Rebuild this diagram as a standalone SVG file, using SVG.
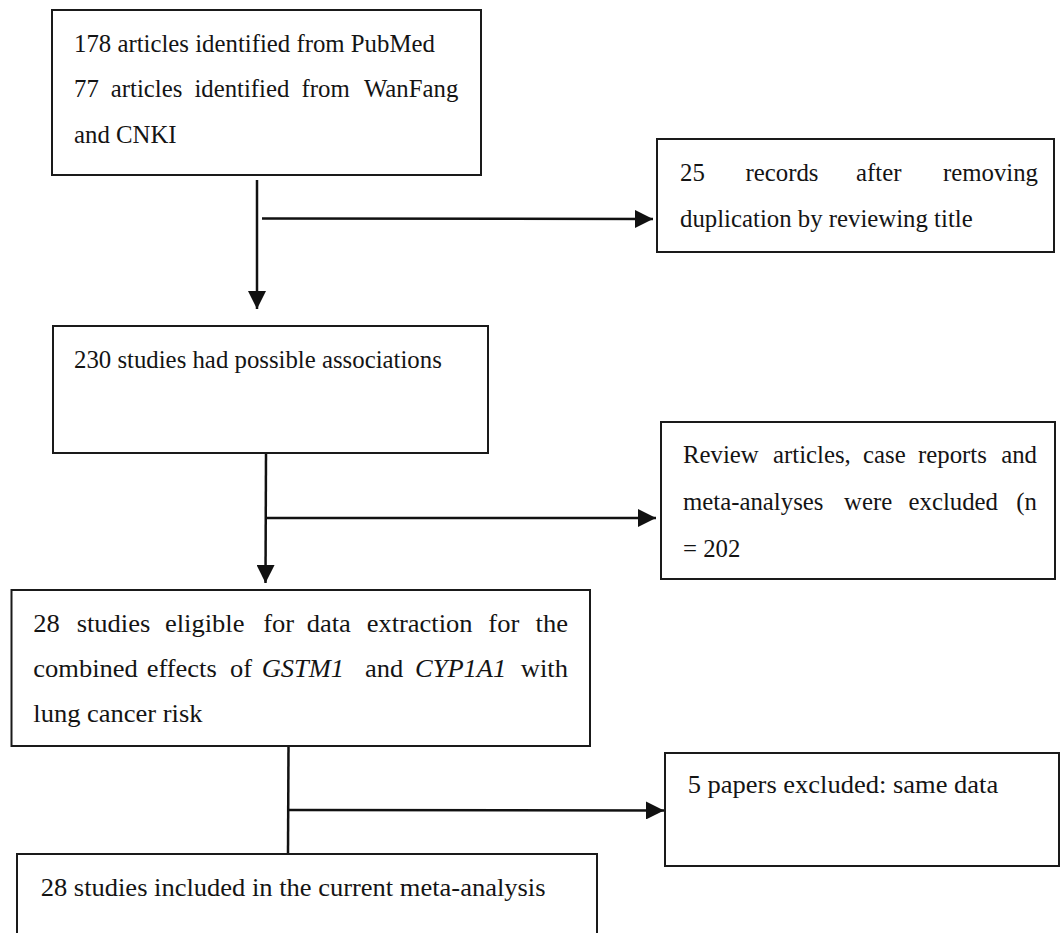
<svg xmlns="http://www.w3.org/2000/svg" width="1060" height="933" viewBox="0 0 1060 933">
<style>
.box{fill:#fff;stroke:#1a1a1a;stroke-width:2}
.t{font-family:"Liberation Serif","Times New Roman",serif;font-size:24.8px;fill:#141414}
.e{text-anchor:end}
.i{font-style:italic}
.c{fill:none;stroke:#111;stroke-width:2.5}
</style>
<defs>
<marker id="ah" markerUnits="userSpaceOnUse" markerWidth="18" markerHeight="18" viewBox="0 0 18 18" refX="18" refY="9" orient="auto">
<path d="M0,0 L18,9 L0,18 Z" fill="#111"/>
</marker>
</defs>
<rect width="1060" height="933" fill="#fff"/>
<g id="connectors">
<line class="c" x1="257" y1="180" x2="257" y2="309" marker-end="url(#ah)"/>
<line class="c" x1="262" y1="218.5" x2="653" y2="219" marker-end="url(#ah)"/>
<line class="c" x1="266" y1="453" x2="265.5" y2="583" marker-end="url(#ah)"/>
<line class="c" x1="266" y1="518" x2="656" y2="518" marker-end="url(#ah)"/>
<line class="c" x1="288.5" y1="746" x2="288" y2="854"/>
<line class="c" x1="289" y1="810" x2="664" y2="810.5" marker-end="url(#ah)"/>
</g>
<g id="n1">
<rect class="box" x="52" y="10" width="429" height="165"/>
<text class="t" x="74" y="52">178 articles identified from PubMed</text>
<text class="t" y="97"><tspan x="74">77</tspan><tspan x="110.8">articles</tspan><tspan x="194.4">identified</tspan><tspan x="301.6">from</tspan><tspan x="458.3" class="e">WanFang</tspan></text>
<text class="t" x="74" y="143">and CNKI</text>
</g>
<g id="n2">
<rect class="box" x="657" y="139" width="397" height="113"/>
<text class="t" y="181"><tspan x="680">25</tspan><tspan x="745.5">records</tspan><tspan x="856">after</tspan></text>
<text class="t e" x="1038" y="181">removing</text>
<text class="t" x="680" y="227">duplication by reviewing title</text>
</g>
<g id="n3">
<rect class="box" x="53" y="326" width="435" height="127"/>
<text class="t" x="74" y="368">230 studies had possible associations</text>
</g>
<g id="n4">
<rect class="box" x="661" y="422" width="394" height="157"/>
<text class="t" y="463"><tspan x="683">Review</tspan><tspan x="773">articles,</tspan><tspan x="863">case</tspan><tspan x="918">reports</tspan></text>
<text class="t e" x="1037" y="463">and</text>
<text class="t" y="510"><tspan x="683">meta-analyses</tspan><tspan x="844">were</tspan><tspan x="908.5">excluded</tspan></text>
<text class="t e" x="1037" y="510">(n</text>
<text class="t" x="683" y="557">= 202</text>
</g>
<g id="n5">
<rect class="box" x="11.5" y="590" width="578.5" height="156"/>
<g transform="matrix(1.069 0 0 1 0 0)">
<text class="t" y="632"><tspan x="31.15">28</tspan><tspan x="71.75">studies</tspan><tspan x="154.35">eligible</tspan><tspan x="246.3">for</tspan><tspan x="286.9">data</tspan><tspan x="343">extraction</tspan><tspan x="456.8">for</tspan></text>
<text class="t e" x="531.3" y="632">the</text>
<text class="t" y="677"><tspan x="31.15">combined</tspan><tspan x="137.2">effects</tspan><tspan x="215.2">of</tspan><tspan x="244.8" class="i">GSTM1</tspan><tspan x="341.4">and</tspan><tspan x="388.2" class="i">CYP1A1</tspan></text>
<text class="t e" x="531.3" y="677">with</text>
<text class="t" x="31.15" y="722">lung cancer risk</text>
</g>
</g>
<g id="n6">
<rect class="box" x="665" y="753" width="394" height="113"/>
<text class="t" x="643.3" y="793" transform="matrix(1.069 0 0 1 0 0)">5 papers excluded: same data</text>
</g>
<g id="n7">
<rect class="box" x="17" y="854" width="580" height="100"/>
<text class="t" x="38.1" y="896" transform="matrix(1.069 0 0 1 0 0)">28 studies included in the current meta-analysis</text>
</g>
</svg>
